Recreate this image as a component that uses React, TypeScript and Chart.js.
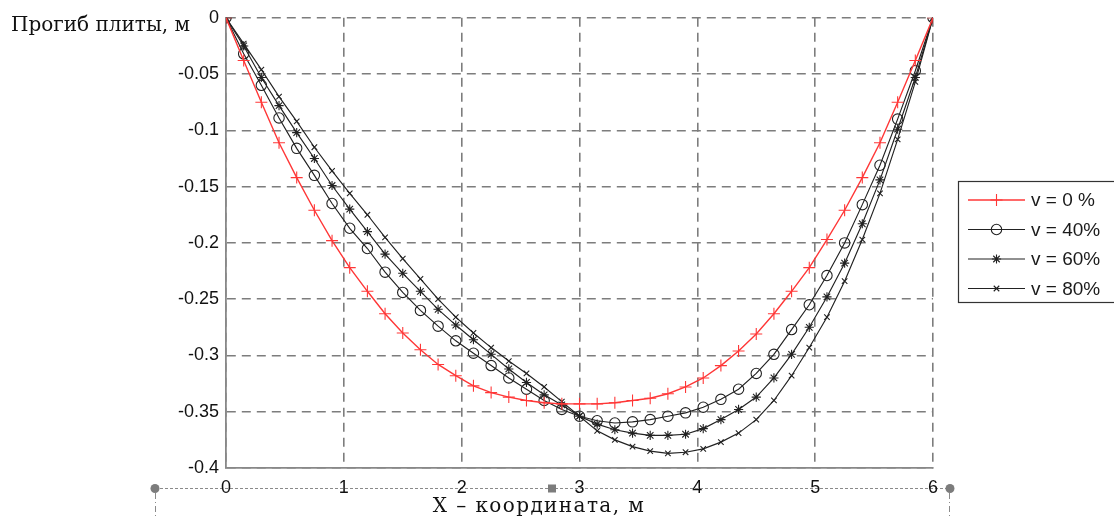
import React, { useEffect, useRef } from 'react';
import { Chart, registerables } from 'chart.js';

Chart.register(...registerables);

// X coordinate of every computed point, m
const xCoords = [
  0, 0.15, 0.3, 0.45, 0.6, 0.75, 0.9, 1.05, 1.2, 1.35, 1.5, 1.65, 1.8, 1.95, 2.1, 2.25, 2.4, 2.55, 2.7, 2.85,
  3, 3.15, 3.3, 3.45, 3.6, 3.75, 3.9, 4.05, 4.2, 4.35, 4.5, 4.65, 4.8, 4.95, 5.1, 5.25, 5.4, 5.55, 5.7, 5.85, 6,
];

// v = 0 %
const v0 = [
  0, -0.038, -0.075, -0.111, -0.142, -0.171, -0.198, -0.222, -0.243, -0.263, -0.28, -0.295, -0.308, -0.318, -0.327,
  -0.333, -0.337, -0.34, -0.342, -0.343, -0.343, -0.343, -0.342, -0.34, -0.338, -0.334, -0.328, -0.32, -0.309,
  -0.296, -0.281, -0.263, -0.243, -0.222, -0.197, -0.171, -0.142, -0.111, -0.075, -0.038, 0,
];

// v = 40 %
const v40 = [
  0, -0.032, -0.06, -0.089, -0.116, -0.14, -0.165, -0.187, -0.205, -0.226, -0.244, -0.26, -0.274, -0.287, -0.298,
  -0.309, -0.32, -0.33, -0.34, -0.348, -0.354, -0.358, -0.36, -0.359, -0.357, -0.354, -0.351, -0.346, -0.339,
  -0.33, -0.316, -0.299, -0.277, -0.255, -0.229, -0.2, -0.166, -0.131, -0.09, -0.047, 0,
];

// v = 60 %
const v60 = [
  0, -0.025, -0.053, -0.078, -0.102, -0.125, -0.149, -0.17, -0.19, -0.21, -0.227, -0.243, -0.259, -0.273, -0.286,
  -0.299, -0.312, -0.324, -0.335, -0.344, -0.354, -0.361, -0.366, -0.369, -0.371, -0.371, -0.37, -0.365, -0.357,
  -0.348, -0.337, -0.32, -0.299, -0.275, -0.248, -0.218, -0.183, -0.144, -0.099, -0.053, 0,
];

// v = 80 %
const v80 = [
  0, -0.023, -0.046, -0.07, -0.092, -0.115, -0.136, -0.156, -0.175, -0.195, -0.214, -0.232, -0.25, -0.266, -0.28,
  -0.293, -0.305, -0.316, -0.328, -0.341, -0.354, -0.367, -0.375, -0.381, -0.385, -0.387, -0.386, -0.383, -0.377,
  -0.369, -0.357, -0.34, -0.318, -0.293, -0.266, -0.234, -0.197, -0.156, -0.108, -0.057, 0,
];

const seriesLabels = ['v = 0 %', 'v = 40%', 'v = 60%', 'v = 80%'];
const seriesValues = [v0, v40, v60, v80];
const yAxisTitle = 'Прогиб плиты, м';
const xAxisTitle = 'X – координата, м';

const RED = 'rgb(255,55,55)';
const DARK = '#222222';
const GRID = '#7d7d7d';
const seriesColors = [RED, DARK, DARK, DARK];
const seriesStyles = ['cross', 'circle', 'star', 'crossRot'];
const seriesRadius = [6, 5.2, 4.6, 3.9];

function drawMarker(ctx: CanvasRenderingContext2D, style: string, x: number, y: number, r: number, color: string) {
  ctx.save();
  ctx.strokeStyle = color;
  ctx.lineWidth = 1.1;
  ctx.beginPath();
  const d = r * Math.SQRT1_2;
  if (style === 'cross' || style === 'star') {
    ctx.moveTo(x - r, y); ctx.lineTo(x + r, y);
    ctx.moveTo(x, y - r); ctx.lineTo(x, y + r);
  }
  if (style === 'crossRot' || style === 'star') {
    ctx.moveTo(x - d, y - d); ctx.lineTo(x + d, y + d);
    ctx.moveTo(x - d, y + d); ctx.lineTo(x + d, y - d);
  }
  if (style === 'circle') {
    ctx.arc(x, y, r, 0, Math.PI * 2);
  }
  ctx.stroke();
  ctx.restore();
}

const decorPlugin = {
  id: 'decor',
  beforeDraw(chart: any) {
    const ctx: CanvasRenderingContext2D = chart.ctx;
    ctx.save();
    // selection frame around the x-axis caption
    ctx.strokeStyle = '#8a8a8a';
    ctx.lineWidth = 1;
    ctx.setLineDash([3, 2]);
    ctx.beginPath();
    ctx.moveTo(155, 488.5); ctx.lineTo(950, 488.5);
    ctx.stroke();
    ctx.setLineDash([6, 3, 1, 3]);
    ctx.beginPath();
    ctx.moveTo(155.5, 493); ctx.lineTo(155.5, 519);
    ctx.moveTo(949.5, 493); ctx.lineTo(949.5, 519);
    ctx.stroke();
    ctx.setLineDash([]);
    ctx.fillStyle = '#7c7c7c';
    ctx.beginPath(); ctx.arc(155, 488.5, 4.5, 0, Math.PI * 2); ctx.fill();
    ctx.beginPath(); ctx.arc(950, 488.5, 4.5, 0, Math.PI * 2); ctx.fill();
    ctx.fillRect(548, 484.5, 8, 8);
    ctx.restore();
  },
  afterDraw(chart: any) {
    const ctx: CanvasRenderingContext2D = chart.ctx;
    ctx.save();
    ctx.fillStyle = '#111';
    ctx.font = '20px "DejaVu Serif"';
    ctx.textBaseline = 'middle';
    ctx.textAlign = 'left';
    ctx.fillText(yAxisTitle, 11, 26);
    ctx.save();
    (ctx as any).letterSpacing = '1.4px';
    ctx.textAlign = 'center';
    ctx.fillText(xAxisTitle, 539, 507);
    ctx.restore();

    // legend
    ctx.strokeStyle = '#333';
    ctx.lineWidth = 1.2;
    ctx.strokeRect(958.5, 181.5, 180, 121);
    const rows = [200, 229.5, 259, 288.5];
    ctx.font = '19px "Liberation Sans"';
    ctx.textAlign = 'left';
    seriesLabels.forEach((label, i) => {
      const y = rows[i];
      ctx.strokeStyle = seriesColors[i];
      ctx.lineWidth = i === 0 ? 1.4 : 1.1;
      ctx.beginPath();
      ctx.moveTo(968, y); ctx.lineTo(1025, y);
      ctx.stroke();
      drawMarker(ctx, seriesStyles[i], 996.5, y, seriesRadius[i], seriesColors[i]);
      ctx.fillStyle = '#1a1a1a';
      ctx.fillText(label, 1031, y + 1);
    });
    ctx.restore();
  },
};

export default function App() {
  const canvasRef = useRef<HTMLCanvasElement | null>(null);

  useEffect(() => {
    if (!canvasRef.current) return;
    const datasets = seriesValues.map((vals, i) => ({
      label: seriesLabels[i],
      data: xCoords.map((x, j) => ({ x, y: vals[j] })),
      borderColor: seriesColors[i],
      backgroundColor: 'rgba(0,0,0,0)',
      borderWidth: i === 0 ? 1.4 : 1.15,
      pointStyle: seriesStyles[i],
      pointRadius: seriesRadius[i],
      pointBorderWidth: 1.1,
      pointBorderColor: seriesColors[i],
      pointBackgroundColor: 'rgba(0,0,0,0)',
      tension: 0,
      fill: false,
    }));

    const tickFont = { family: '"Liberation Sans", Arial, sans-serif', size: 18 };

    const chart = new Chart(canvasRef.current, {
      type: 'line',
      data: { datasets: datasets as any },
      plugins: [decorPlugin],
      options: {
        responsive: false,
        animation: false,
        events: [],
        layout: { padding: { left: 0, right: 181, top: 15, bottom: 0 } },
        plugins: {
          legend: { display: false },
          tooltip: { enabled: false },
          title: { display: false },
        },
        scales: {
          x: {
            type: 'linear',
            min: 0,
            max: 6,
            afterFit: (scale: any) => { scale.height = 51; },
            ticks: {
              stepSize: 1,
              padding: 9,
              color: '#111',
              font: tickFont,
              maxRotation: 0,
            },
            grid: {
              color: GRID,
              lineWidth: 1.6,
              drawTicks: false,
            },
            border: { display: true, color: '#888', width: 1.8, dash: [9, 6] },
          },
          y: {
            type: 'linear',
            min: -0.4,
            max: 0,
            afterFit: (scale: any) => { scale.width = 226; },
            ticks: {
              stepSize: 0.05,
              padding: 7,
              color: '#111',
              font: tickFont,
              callback: (v: any) => {
                const r = Math.round(Number(v) * 100) / 100;
                return r === 0 ? '0' : String(r);
              },
            },
            grid: {
              color: GRID,
              lineWidth: 1.6,
              drawTicks: false,
            },
            border: { display: true, color: '#888', width: 1.8, dash: [9, 6] },
          },
        },
      },
    });
    return () => chart.destroy();
  }, []);

  return (
    <div style={{ position: 'fixed', left: 0, top: 0, width: 1114, height: 519, background: '#fff' }}>
      <canvas ref={canvasRef} width={1114} height={519} style={{ display: 'block' }} />
    </div>
  );
}
